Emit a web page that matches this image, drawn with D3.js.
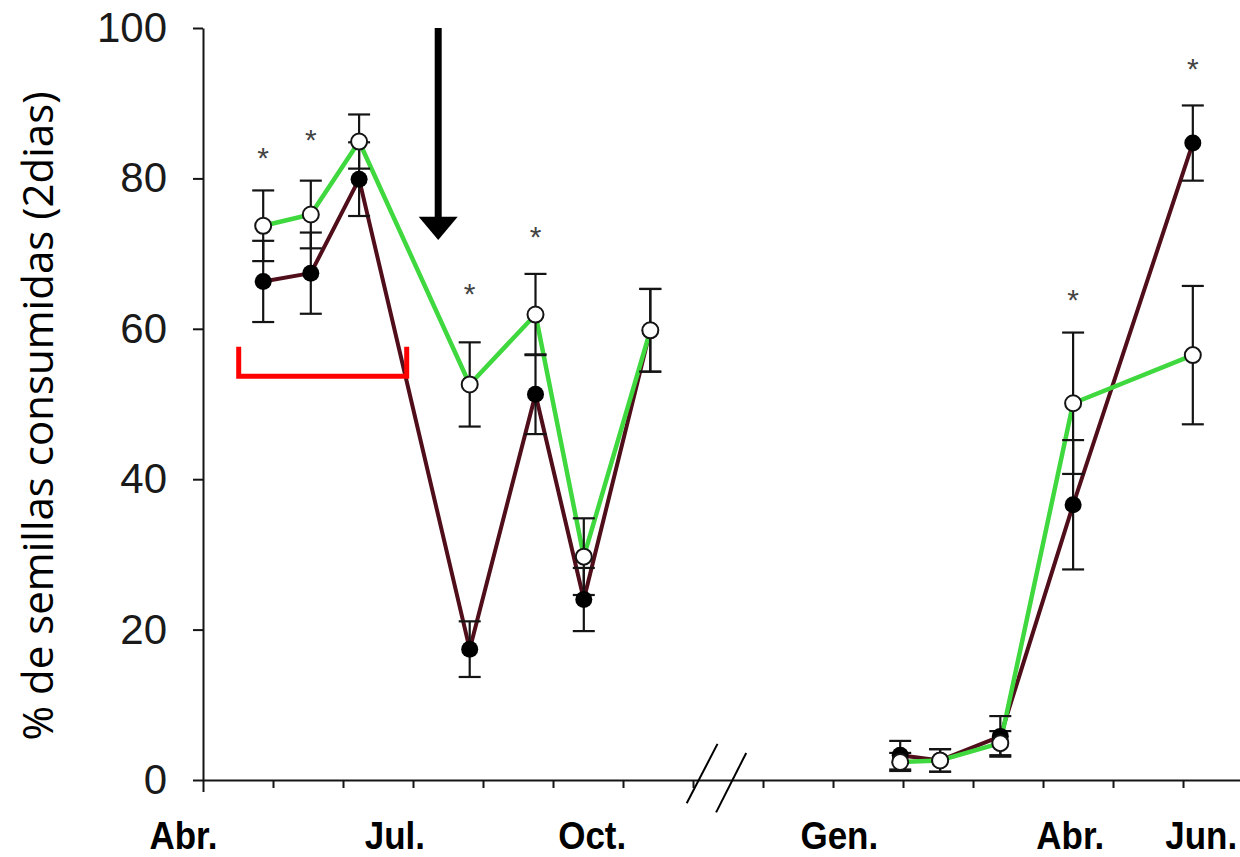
<!DOCTYPE html>
<html><head><meta charset="utf-8">
<script src="https://cdn.jsdelivr.net/npm/d3@7/dist/d3.min.js"></script>
<style>
html,body{margin:0;padding:0;background:#fff;}
svg{display:block;}
</style></head>
<body>
<svg id="chart" width="1240" height="857"></svg>
<script>
// ---- data (x positions in month index from the first "Abr." tick) ----
const xPos       = [0.86, 1.54, 2.23, 3.81, 4.75, 5.44, 6.39, 9.96, 10.53, 11.39, 12.43, 14.14];
const openMean   = [73.7, 75.2, 84.9, 52.6, 61.9, 29.7, 59.8, 2.4, 2.6, 4.9, 50.1, 56.5];
const openSE     = [4.7, 4.5, 3.6, 5.6, 5.4, 5.1, 5.5, 1.2, 1.5, 1.6, 9.4, 9.2];
const filledMean = [66.3, 67.4, 79.9, 17.4, 51.3, 24.0, 59.8, 3.3, 2.6, 5.8, 36.6, 84.7];
const filledSE   = [5.4, 5.4, 4.9, 3.7, 5.3, 4.2, 5.5, 1.9, 1.5, 2.7, 8.6, 5.0];
const seasonOf   = [0, 0, 0, 0, 0, 0, 0, 1, 1, 1, 1, 1]; // lines break between seasons
const starX      = [0.86, 1.54, 3.81, 4.75, 12.43, 14.14];
const starY      = [83.6, 86.0, 65.5, 73.1, 64.7, 95.5];
const monthTicks = d3.range(0, 15);
const yTicks     = [0, 20, 40, 60, 80, 100];
const monthLabels   = ["Abr.", "Jul.", "Oct.", "Gen.", "Abr.", "Jun."];
const monthLabelPos = [-0.28, 2.74, 5.56, 9.09, 12.39, 14.26];
const yTitle = "% de semillas consumidas (2dias)";
// annotations in data units
const arrowX = 3.36, arrowTop = 100, arrowHeadBase = 74.9, arrowTip = 71.8;
const bracket = {x0: 0.51, x1: 2.91, yTop: 57.6, yBottom: 53.7};
const breakMarks = [[6.91, -3.1, 7.35, 4.8], [7.33, -4.3, 7.76, 3.6]];

// ---- scales ----
const x = d3.scaleLinear().domain([0, 14.814]).range([203, 1240]);
const y = d3.scaleLinear().domain([0, 100]).range([780, 28]);

const svg = d3.select("#chart");
const ink = "#141414";

// axes
const yAxis = svg.append("g").attr("transform", `translate(${x(0)},0)`)
  .call(d3.axisLeft(y).tickValues(yTicks).tickSize(10).tickSizeOuter(0).tickPadding(26));
yAxis.select(".domain").attr("stroke", ink).attr("stroke-width", 2);
yAxis.selectAll(".tick line").attr("stroke", ink).attr("stroke-width", 2);
yAxis.selectAll(".tick text").attr("font-family", "Liberation Sans, Arial, sans-serif")
  .attr("font-size", 42).attr("fill", "#1a1a1a");

const xAxis = svg.append("g").attr("transform", `translate(0,${y(0)})`)
  .call(d3.axisBottom(x).tickValues(monthTicks).tickSize(8).tickSizeOuter(0).tickFormat(""));
xAxis.select(".domain").attr("stroke", ink).attr("stroke-width", 2);
xAxis.selectAll(".tick line").attr("stroke", ink).attr("stroke-width", 2)
  .attr("y2", d => d === 0 ? 12 : 8);

// month labels
svg.append("g").selectAll("text").data(monthLabels).join("text")
  .attr("transform", (d, i) => `translate(${x(monthLabelPos[i])},849) scale(1,1.12)`)
  .attr("text-anchor", "middle")
  .attr("font-family", "Liberation Sans, Arial, sans-serif")
  .attr("font-weight", "bold").attr("font-size", 35).attr("fill", "#000")
  .text(d => d);

// y title
svg.append("text")
  .attr("transform", `translate(53,${(y(100) + y(0)) / 2 + 12}) rotate(-90)`)
  .attr("text-anchor", "middle")
  .attr("font-family", "Open Sans, sans-serif")
  .attr("font-size", 42).attr("fill", "#000")
  .text(yTitle);

// break marks
svg.append("g").selectAll("line").data(breakMarks).join("line")
  .attr("x1", d => x(d[0])).attr("y1", d => y(d[1]))
  .attr("x2", d => x(d[2])).attr("y2", d => y(d[3]))
  .attr("stroke", "#000").attr("stroke-width", 2);

// lines (one path per season, so nothing crosses the axis break)
const idx = d3.range(xPos.length);
const segments = d3.groups(idx, i => seasonOf[i]).map(d => d[1]);
const line = arr => d3.line().x(i => x(xPos[i])).y(i => y(arr[i]));
svg.append("g").selectAll("path").data(segments).join("path").attr("d", line(filledMean))
  .attr("fill", "none").attr("stroke", "#4f0e1a").attr("stroke-width", 4).attr("stroke-linejoin", "round");
svg.append("g").selectAll("path").data(segments).join("path").attr("d", line(openMean))
  .attr("fill", "none").attr("stroke", "#3fd83f").attr("stroke-width", 4.5).attr("stroke-linejoin", "round");

// error bars
function errBars(mean, se) {
  const g = svg.append("g").attr("stroke", ink).attr("stroke-width", 2.2);
  g.selectAll("line.v").data(idx).join("line").attr("class", "v")
    .attr("x1", i => x(xPos[i])).attr("x2", i => x(xPos[i]))
    .attr("y1", i => y(mean[i] - se[i])).attr("y2", i => y(mean[i] + se[i]));
  [-1, 1].forEach(s => {
    g.selectAll(null).data(idx).join("line")
      .attr("x1", i => x(xPos[i]) - 11).attr("x2", i => x(xPos[i]) + 11)
      .attr("y1", i => y(mean[i] + s * se[i])).attr("y2", i => y(mean[i] + s * se[i]));
  });
}
errBars(filledMean, filledSE);
errBars(openMean, openSE);

// markers
svg.append("g").selectAll("circle").data(idx).join("circle")
  .attr("cx", i => x(xPos[i])).attr("cy", i => y(filledMean[i])).attr("r", 8.5)
  .attr("fill", "#000");
svg.append("g").selectAll("circle").data(idx).join("circle")
  .attr("cx", i => x(xPos[i])).attr("cy", i => y(openMean[i])).attr("r", 8)
  .attr("fill", "#fff").attr("stroke", ink).attr("stroke-width", 2);

// significance asterisks
svg.append("g").selectAll("text").data(starX).join("text")
  .attr("x", d => x(d)).attr("y", (d, i) => y(starY[i]) + 17)
  .attr("text-anchor", "middle")
  .attr("font-family", "Liberation Sans, Arial, sans-serif")
  .attr("font-size", 30).attr("fill", "#444")
  .text("*");

// arrow
svg.append("line")
  .attr("x1", x(arrowX)).attr("x2", x(arrowX))
  .attr("y1", y(arrowTop)).attr("y2", y(arrowHeadBase) + 1)
  .attr("stroke", "#000").attr("stroke-width", 7);
svg.append("path")
  .attr("d", `M${x(arrowX) - 19.5},${y(arrowHeadBase)} L${x(arrowX) + 19.5},${y(arrowHeadBase)} L${x(arrowX)},${y(arrowTip)} Z`)
  .attr("fill", "#000");

// red bracket
svg.append("path")
  .attr("d", `M${x(bracket.x0)},${y(bracket.yTop)} L${x(bracket.x0)},${y(bracket.yBottom)} L${x(bracket.x1)},${y(bracket.yBottom)} L${x(bracket.x1)},${y(bracket.yTop)}`)
  .attr("fill", "none").attr("stroke", "#ff0000").attr("stroke-width", 5);
</script>
</body></html>
